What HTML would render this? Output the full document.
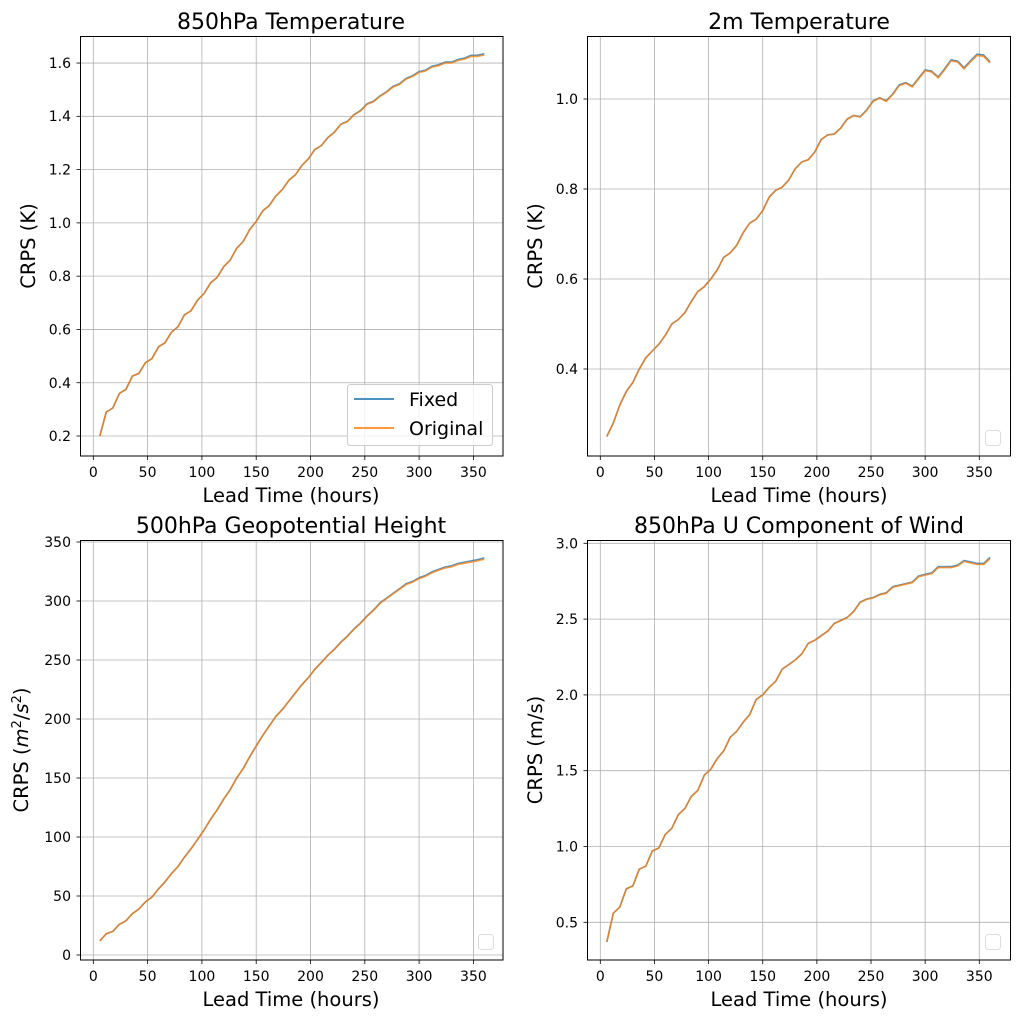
<!DOCTYPE html>
<html><head><meta charset="utf-8"><style>
body{margin:0;background:#fff;}
svg{display:block;font-family:"DejaVu Sans","Liberation Sans",sans-serif;}
.t{font-size:14px;fill:#000}
.ax{font-size:19.5px;fill:#000}
.ti{font-size:22px;fill:#000}
</style></head><body>
<svg id="s" width="1022" height="1019" viewBox="0 0 1022 1019" xmlns="http://www.w3.org/2000/svg">
<rect width="1022" height="1019" fill="#fff"/>
<g id="grid" stroke="#b0b0b0" stroke-width="0.8"></g>
<g id="lines" fill="none" stroke-width="1.6" stroke-linejoin="round"></g>
<g fill="none" stroke="#000" stroke-width="1">
<rect x="80.5" y="36.5" width="422.5" height="419.5"/>
<rect x="587.5" y="36.5" width="423" height="419.5"/>
<rect x="80.5" y="540.5" width="422.5" height="419.5"/>
<rect x="587.5" y="540.5" width="423" height="419.5"/>
</g>
<g id="ticks" stroke="#000" stroke-width="0.8"></g>
<text class="ti" x="291" y="29" text-anchor="middle">850hPa Temperature</text>
<text class="ti" x="799" y="29" text-anchor="middle">2m Temperature</text>
<text class="ti" x="291" y="533" text-anchor="middle">500hPa Geopotential Height</text>
<text class="ti" x="799" y="533" text-anchor="middle">850hPa U Component of Wind</text>
<text class="ax" x="291" y="502" text-anchor="middle">Lead Time (hours)</text>
<text class="ax" x="799" y="502" text-anchor="middle">Lead Time (hours)</text>
<text class="ax" x="291" y="1006" text-anchor="middle">Lead Time (hours)</text>
<text class="ax" x="799" y="1006" text-anchor="middle">Lead Time (hours)</text>
<text class="ax" transform="translate(35,246) rotate(-90)" text-anchor="middle">CRPS (K)</text>
<text class="ax" transform="translate(542,246) rotate(-90)" text-anchor="middle">CRPS (K)</text>
<text class="ax" transform="translate(28,750) rotate(-90)" text-anchor="middle">CRPS (<tspan font-style="italic">m</tspan><tspan font-size="13" dy="-7">2</tspan><tspan dy="7">/</tspan><tspan font-style="italic">s</tspan><tspan font-size="13" dy="-7">2</tspan><tspan dy="7">)</tspan></text>
<text class="ax" transform="translate(542,750) rotate(-90)" text-anchor="middle">CRPS (m/s)</text>
<g class="t" text-anchor="middle">
<text x="93.3" y="477">0</text><text x="147.6" y="477">50</text><text x="201.9" y="477">100</text><text x="256.2" y="477">150</text><text x="310.5" y="477">200</text><text x="364.8" y="477">250</text><text x="419.1" y="477">300</text><text x="473.4" y="477">350</text>
<text x="600.3" y="477">0</text><text x="654.4" y="477">50</text><text x="708.6" y="477">100</text><text x="762.7" y="477">150</text><text x="816.9" y="477">200</text><text x="871" y="477">250</text><text x="925.1" y="477">300</text><text x="979.3" y="477">350</text>
<text x="93.3" y="981">0</text><text x="147.6" y="981">50</text><text x="201.9" y="981">100</text><text x="256.2" y="981">150</text><text x="310.5" y="981">200</text><text x="364.8" y="981">250</text><text x="419.1" y="981">300</text><text x="473.4" y="981">350</text>
<text x="600.3" y="981">0</text><text x="654.4" y="981">50</text><text x="708.6" y="981">100</text><text x="762.7" y="981">150</text><text x="816.9" y="981">200</text><text x="871" y="981">250</text><text x="925.1" y="981">300</text><text x="979.3" y="981">350</text>
</g>
<g class="t" text-anchor="end">
<text x="71" y="441">0.2</text><text x="71" y="388">0.4</text><text x="71" y="334.5">0.6</text><text x="71" y="281">0.8</text><text x="71" y="228">1.0</text><text x="71" y="174.5">1.2</text><text x="71" y="121">1.4</text><text x="71" y="68">1.6</text>
<text x="578" y="374">0.4</text><text x="578" y="284">0.6</text><text x="578" y="194">0.8</text><text x="578" y="104">1.0</text>
<text x="71" y="960">0</text><text x="71" y="901">50</text><text x="71" y="842">100</text><text x="71" y="783">150</text><text x="71" y="724">200</text><text x="71" y="665">250</text><text x="71" y="606">300</text><text x="71" y="547">350</text>
<text x="578" y="927.3">0.5</text><text x="578" y="851.5">1.0</text><text x="578" y="775.7">1.5</text><text x="578" y="699.9">2.0</text><text x="578" y="624.1">2.5</text><text x="578" y="548.3">3.0</text>
</g>
<rect x="347.5" y="384.5" width="145" height="61" rx="3" fill="#fff" fill-opacity="0.8" stroke="#ccc"/>
<line x1="354" y1="399" x2="394" y2="399" stroke="#1f77b4" stroke-opacity="0.8" stroke-width="2"/>
<line x1="354" y1="428" x2="394" y2="428" stroke="#ff7f0e" stroke-opacity="0.8" stroke-width="2"/>
<text x="409" y="406" style="font-size:19px">Fixed</text>
<text x="409" y="435" style="font-size:19px">Original</text>
<rect x="985.5" y="430.5" width="15" height="15" rx="3" fill="#fff" stroke="#ddd"/>
<rect x="478.5" y="934.5" width="15" height="15" rx="3" fill="#fff" stroke="#ddd"/>
<rect x="985.5" y="934.5" width="15" height="15" rx="3" fill="#fff" stroke="#ddd"/>
</svg>
<script>
var NS="http://www.w3.org/2000/svg";
function el(p,t,a){var e=document.createElementNS(NS,t);for(var k in a)e.setAttribute(k,a[k]);document.getElementById(p).appendChild(e);}
var P=[
 {x0:93.3,xs:380.1/350,L:80.5,R:503,T:36.5,B:456,yv:[0.2,0.4,0.6,0.8,1.0,1.2,1.4,1.6],y0:436,ys:-266.4,ref:0.2,
  k:[[6,.2],[12,.29],[18,.305],[24,.36],[30,.375],[36,.425],[42,.435],[48,.475],[54,.49],[60,.535],[66,.55],[72,.59],[78,.61],[84,.655],[90,.67],[96,.71],[102,.735],[108,.775],[114,.795],[120,.835],[126,.86],[132,.905],[138,.93],[144,.975],[150,1.005],[156,1.045],[162,1.065],[168,1.1],[174,1.125],[180,1.16],[186,1.18],[192,1.215],[198,1.24],[204,1.275],[210,1.29],[216,1.32],[222,1.34],[228,1.37],[234,1.38],[240,1.405],[246,1.42],[252,1.445],[258,1.455],[264,1.475],[270,1.49],[276,1.51],[282,1.52],[288,1.54],[294,1.55],[300,1.565],[306,1.57],[312,1.585],[318,1.59],[324,1.6],[330,1.6],[336,1.61],[342,1.615],[348,1.625],[354,1.625],[360,1.63]]},
 {x0:600.3,xs:379/350,L:587.5,R:1010.5,T:36.5,B:456,yv:[0.4,0.6,0.8,1.0],y0:369,ys:-450,ref:0.4,
  k:[[6,.25],[12,.28],[18,.32],[24,.35],[30,.37],[36,.4],[42,.425],[48,.44],[54,.455],[60,.475],[66,.5],[72,.51],[78,.525],[84,.55],[90,.572],[96,.583],[102,.6],[108,.62],[114,.648],[120,.658],[126,.675],[132,.703],[138,.724],[144,.733],[150,.752],[156,.782],[162,.797],[168,.804],[174,.82],[180,.845],[186,.86],[192,.865],[198,.882],[204,.91],[210,.92],[216,.922],[222,.935],[228,.955],[234,.963],[240,.96],[246,.975],[252,.995],[258,1.002],[264,.995],[270,1.01],[276,1.03],[282,1.035],[288,1.027],[294,1.045],[300,1.063],[306,1.06],[312,1.047],[318,1.065],[324,1.085],[330,1.082],[336,1.067],[342,1.083],[348,1.097],[354,1.095],[360,1.08]]},
 {x0:93.3,xs:380.1/350,L:80.5,R:503,T:540.5,B:960,yv:[0,50,100,150,200,250,300,350],y0:955,ys:-1.18,ref:0,
  k:[[6,12],[12,18],[18,20],[24,26],[30,29],[36,35],[42,39],[48,45],[54,49],[60,56],[66,62],[72,69],[78,75],[84,83],[90,90],[96,98],[102,106],[108,115],[114,123],[120,132],[126,140],[132,150],[138,158],[144,168],[150,177],[156,186],[162,194],[168,202],[174,208],[180,215],[186,222],[192,229],[198,235],[204,242],[210,248],[216,254],[222,259],[228,265],[234,270],[240,276],[246,281],[252,287],[258,292],[264,298],[270,302],[276,306],[282,310],[288,314],[294,316],[300,319],[306,321],[312,324],[318,326],[324,328],[330,329],[336,331],[342,332],[348,333],[354,334],[360,335.5]]},
 {x0:600.3,xs:379/350,L:587.5,R:1010.5,T:540.5,B:960,yv:[0.5,1,1.5,2,2.5,3],y0:922.3,ys:-151.6,ref:0.5,
  k:[[6,.37],[12,.56],[18,.6],[24,.72],[30,.74],[36,.85],[42,.87],[48,.97],[54,.99],[60,1.08],[66,1.12],[72,1.21],[78,1.25],[84,1.33],[90,1.37],[96,1.47],[102,1.51],[108,1.58],[114,1.63],[120,1.72],[126,1.76],[132,1.82],[138,1.87],[144,1.97],[150,2.0],[156,2.05],[162,2.09],[168,2.17],[174,2.2],[180,2.23],[186,2.27],[192,2.34],[198,2.36],[204,2.39],[210,2.42],[216,2.47],[222,2.49],[228,2.51],[234,2.55],[240,2.61],[246,2.63],[252,2.64],[258,2.66],[264,2.67],[270,2.71],[276,2.72],[282,2.73],[288,2.74],[294,2.78],[300,2.79],[306,2.8],[312,2.84],[318,2.84],[324,2.84],[330,2.85],[336,2.88],[342,2.87],[348,2.86],[354,2.86],[360,2.9]]}
];
P.forEach(function(p){
 for(var h=0;h<=350;h+=50){var x=p.x0+h*p.xs;
  el("grid","line",{x1:x,x2:x,y1:p.T,y2:p.B});
  el("ticks","line",{x1:x,x2:x,y1:p.B,y2:p.B+4});}
 p.yv.forEach(function(v){var y=p.y0+(v-p.ref)*p.ys;
  el("grid","line",{x1:p.L,x2:p.R,y1:y,y2:y});
  el("ticks","line",{x1:p.L-4,x2:p.L,y1:y,y2:y});});
 function path(off){return p.k.map(function(q,i){var x=p.x0+q[0]*p.xs;var y=p.y0+(q[1]-p.ref)*p.ys-off*Math.max(0,(q[0]-200)/160);return (i?"L":"M")+x.toFixed(1)+" "+y.toFixed(1);}).join("");}
 el("lines","path",{d:path(1.2),stroke:"#1f77b4","stroke-opacity":0.8});
 el("lines","path",{d:path(0),stroke:"#ff7f0e","stroke-opacity":0.8});
});
</script>
</body></html>
